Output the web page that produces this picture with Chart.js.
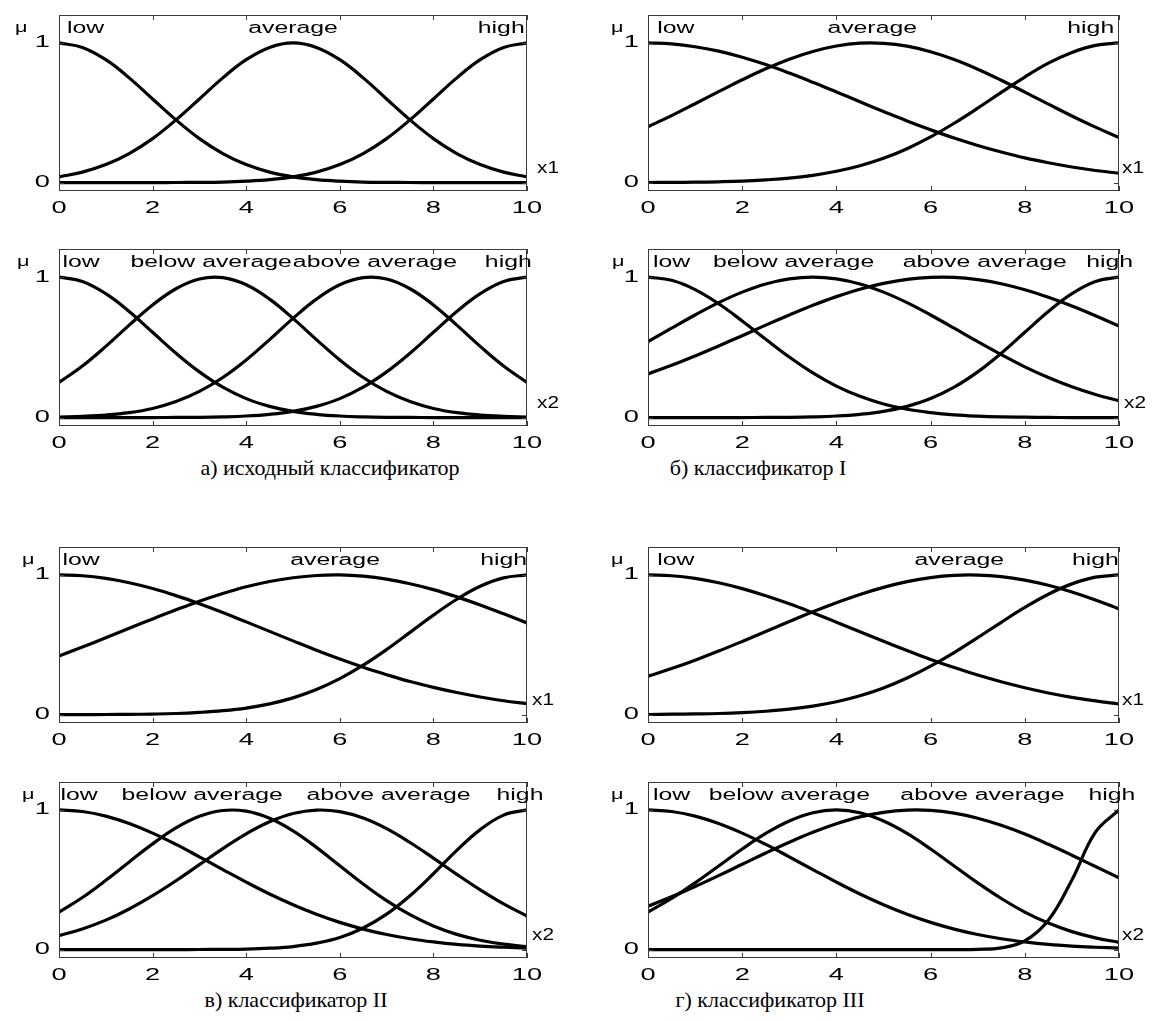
<!DOCTYPE html>
<html>
<head>
<meta charset="utf-8">
<script src="https://cdn.jsdelivr.net/npm/chart.js@4.4.0/dist/chart.umd.min.js"></script>
<style>
  body { margin: 0; background: #fff; width: 1152px; height: 1021px; position: relative; overflow: hidden; }
  canvas { position: absolute; }
  .cap { position: absolute; font-family: "Liberation Serif", "Times New Roman", serif; font-size: 22px;
         transform: translateX(-50%); white-space: nowrap; color: #000; line-height: 26px; }
</style>
</head>
<body>
<div class="cap" style="left:330px;top:455px">а) исходный классификатор</div>
<div class="cap" style="left:758px;top:455px">б) классификатор I</div>
<div class="cap" style="left:296px;top:987px">в) классификатор II</div>
<div class="cap" style="left:770px;top:987px">г) классификатор III</div>
<script>
// sample points on the input axis
var xs = [0, 0.5, 1, 1.5, 2, 2.5, 3, 3.5, 4, 4.5, 5, 5.5, 6, 6.5, 7, 7.5, 8, 8.5, 9, 9.5, 10];
var xTicks = [0, 2, 4, 6, 8, 10];
var yTicks = [0, 1];

// а) исходный классификатор
var a1Low  = [1, 0.968, 0.88, 0.75, 0.599, 0.449, 0.315, 0.208, 0.129, 0.075, 0.041, 0.021, 0.01, 0.004, 0.002, 0.001, 0, 0, 0, 0, 0];
var a1Avg  = [0.041, 0.075, 0.129, 0.208, 0.315, 0.449, 0.599, 0.75, 0.88, 0.968, 1, 0.968, 0.88, 0.75, 0.599, 0.449, 0.315, 0.208, 0.129, 0.075, 0.041];
var a1High = [0, 0, 0, 0, 0, 0.001, 0.002, 0.004, 0.01, 0.021, 0.041, 0.075, 0.129, 0.208, 0.315, 0.449, 0.599, 0.75, 0.88, 0.968, 1];
var a2Low   = [1, 0.969, 0.882, 0.755, 0.607, 0.458, 0.325, 0.216, 0.135, 0.08, 0.044, 0.023, 0.011, 0.005, 0.002, 0.001, 0, 0, 0, 0, 0];
var a2Below = [0.25, 0.367, 0.507, 0.658, 0.802, 0.917, 0.986, 0.996, 0.945, 0.843, 0.706, 0.555, 0.41, 0.285, 0.186, 0.114, 0.065, 0.035, 0.018, 0.009, 0.004];
var a2Above = [0.004, 0.009, 0.018, 0.035, 0.065, 0.114, 0.186, 0.285, 0.41, 0.555, 0.706, 0.843, 0.945, 0.996, 0.986, 0.917, 0.802, 0.658, 0.507, 0.367, 0.25];
var a2High  = [0, 0, 0, 0, 0, 0.001, 0.002, 0.005, 0.011, 0.023, 0.044, 0.08, 0.135, 0.216, 0.325, 0.458, 0.607, 0.755, 0.882, 0.969, 1];

// б) классификатор I
var b1Low  = [1, 0.993, 0.973, 0.941, 0.898, 0.845, 0.784, 0.718, 0.649, 0.579, 0.509, 0.441, 0.378, 0.319, 0.266, 0.219, 0.177, 0.142, 0.112, 0.087, 0.067];
var b1Avg  = [0.4, 0.48, 0.565, 0.651, 0.736, 0.815, 0.884, 0.939, 0.978, 0.998, 0.997, 0.977, 0.937, 0.881, 0.812, 0.733, 0.648, 0.562, 0.477, 0.397, 0.323];
var b1High = [0.001, 0.002, 0.003, 0.006, 0.011, 0.02, 0.032, 0.052, 0.081, 0.121, 0.174, 0.243, 0.327, 0.425, 0.533, 0.646, 0.756, 0.855, 0.932, 0.983, 1];
var b2Low   = [1, 0.977, 0.911, 0.81, 0.688, 0.558, 0.431, 0.318, 0.224, 0.151, 0.097, 0.059, 0.035, 0.019, 0.01, 0.005, 0.003, 0.001, 0, 0, 0];
var b2Below = [0.54, 0.636, 0.73, 0.818, 0.893, 0.951, 0.987, 1, 0.987, 0.951, 0.893, 0.818, 0.73, 0.636, 0.54, 0.448, 0.361, 0.285, 0.219, 0.164, 0.12];
var b2Above = [0.311, 0.372, 0.439, 0.51, 0.583, 0.658, 0.73, 0.799, 0.861, 0.914, 0.955, 0.984, 0.998, 0.998, 0.982, 0.953, 0.91, 0.856, 0.794, 0.725, 0.652];
var b2High  = [0, 0, 0, 0, 0, 0.001, 0.002, 0.005, 0.011, 0.023, 0.044, 0.08, 0.135, 0.216, 0.325, 0.458, 0.607, 0.755, 0.882, 0.969, 1];

// в) классификатор II
var c1Low  = [1, 0.994, 0.975, 0.944, 0.903, 0.852, 0.794, 0.731, 0.664, 0.596, 0.528, 0.461, 0.398, 0.339, 0.286, 0.237, 0.195, 0.158, 0.126, 0.099, 0.078];
var c1Avg  = [0.42, 0.484, 0.55, 0.618, 0.685, 0.75, 0.812, 0.867, 0.915, 0.953, 0.98, 0.996, 1, 0.991, 0.97, 0.937, 0.895, 0.843, 0.785, 0.722, 0.656];
var c1High = [0, 0, 0.001, 0.002, 0.004, 0.008, 0.016, 0.028, 0.047, 0.077, 0.12, 0.18, 0.258, 0.354, 0.466, 0.589, 0.712, 0.826, 0.919, 0.979, 1];
var c2Low   = [1, 0.989, 0.956, 0.903, 0.834, 0.753, 0.664, 0.573, 0.483, 0.398, 0.321, 0.253, 0.195, 0.147, 0.108, 0.078, 0.055, 0.037, 0.025, 0.017, 0.011];
var c2Below = [0.268, 0.373, 0.496, 0.628, 0.757, 0.871, 0.954, 0.996, 0.991, 0.94, 0.85, 0.732, 0.601, 0.47, 0.351, 0.25, 0.169, 0.109, 0.067, 0.039, 0.022];
var c2Above = [0.1, 0.148, 0.211, 0.291, 0.386, 0.493, 0.608, 0.723, 0.829, 0.915, 0.974, 0.999, 0.988, 0.942, 0.866, 0.767, 0.655, 0.539, 0.428, 0.327, 0.241];
var c2High  = [0, 0, 0, 0, 0, 0, 0.001, 0.002, 0.004, 0.01, 0.022, 0.046, 0.087, 0.155, 0.254, 0.386, 0.543, 0.71, 0.859, 0.963, 1];

// г) классификатор III
var d1Low  = [1, 0.994, 0.975, 0.944, 0.902, 0.851, 0.793, 0.729, 0.662, 0.593, 0.525, 0.459, 0.395, 0.337, 0.283, 0.235, 0.192, 0.155, 0.124, 0.098, 0.076];
var d1Avg  = [0.275, 0.33, 0.39, 0.455, 0.524, 0.595, 0.666, 0.736, 0.801, 0.86, 0.911, 0.952, 0.981, 0.997, 0.999, 0.988, 0.963, 0.926, 0.878, 0.821, 0.757];
var d1High = [0.001, 0.003, 0.005, 0.008, 0.014, 0.024, 0.039, 0.061, 0.092, 0.135, 0.191, 0.262, 0.347, 0.444, 0.551, 0.661, 0.767, 0.862, 0.936, 0.984, 1];
var d2Low   = [1, 0.989, 0.956, 0.903, 0.834, 0.753, 0.664, 0.573, 0.483, 0.398, 0.321, 0.253, 0.195, 0.147, 0.108, 0.078, 0.055, 0.037, 0.025, 0.017, 0.011];
var d2Below = [0.269, 0.366, 0.478, 0.599, 0.72, 0.832, 0.921, 0.98, 1, 0.98, 0.921, 0.832, 0.72, 0.599, 0.478, 0.366, 0.269, 0.19, 0.129, 0.084, 0.052];
var d2Above = [0.311, 0.378, 0.452, 0.53, 0.611, 0.692, 0.769, 0.84, 0.901, 0.95, 0.983, 0.999, 0.997, 0.977, 0.941, 0.89, 0.827, 0.754, 0.676, 0.595, 0.514];
var d2High  = [0, 0, 0, 0, 0, 0, 0, 0, 0, 0, 0, 0, 0, 0, 0.002, 0.013, 0.062, 0.21, 0.499, 0.841, 1];

var names3 = ['low', 'average', 'high'];
var names4 = ['low', 'below average', 'above average', 'high'];

// where each subplot sits: plot-area left/right and the pixel rows of mu=1 and mu=0
var panels = [
  { L: 59,  R: 527,  y1: 43,  y0: 183, series: [a1Low, a1Avg, a1High], names: names3, at: [0.57, 5.0, 9.45], input: 'x1', ix: 10, mu: -44 },
  { L: 59,  R: 527,  y1: 277, y0: 418, series: [a2Low, a2Below, a2Above, a2High], names: names4, at: [0.47, 3.25, 6.75, 9.6], input: 'x2', ix: 10, mu: -42 },
  { L: 648, R: 1119, y1: 43,  y0: 183, series: [b1Low, b1Avg, b1High], names: names3, at: [0.59, 4.76, 9.4], input: 'x1', ix: 3, mu: -37 },
  { L: 648, R: 1119, y1: 277, y0: 418, series: [b2Low, b2Below, b2Above, b2High], names: names4, at: [0.5, 3.09, 7.15, 9.8], input: 'x2', ix: 5, mu: -36 },
  { L: 59,  R: 527,  y1: 575, y0: 715, series: [c1Low, c1Avg, c1High], names: names3, at: [0.47, 5.9, 9.5], input: 'x1', ix: 5, mu: -37 },
  { L: 59,  R: 527,  y1: 810, y0: 950, series: [c2Low, c2Below, c2Above, c2High], names: names4, at: [0.43, 3.06, 7.04, 9.85], input: 'x2', ix: 5, mu: -37 },
  { L: 648, R: 1119, y1: 575, y0: 715, series: [d1Low, d1Avg, d1High], names: names3, at: [0.59, 6.61, 9.5], input: 'x1', ix: 3, mu: -37 },
  { L: 648, R: 1119, y1: 810, y0: 950, series: [d2Low, d2Below, d2Above, d2High], names: names4, at: [0.5, 3.0, 7.1, 9.85], input: 'x2', ix: 3, mu: -37 }
];

var Y_MIN = -0.06, Y_MAX = 1.2;
var PAD_L = 50, PAD_B = 32, PAD_R = 45, PAD_T = 2;
var FONT = '"Liberation Sans", Arial, sans-serif';
var STRETCH_TXT = 1.55, STRETCH_NUM = 1.7;

// the source figure was widened, so its lettering is drawn horizontally stretched
function wideText(ctx, txt, x, y, align, sx) {
  ctx.save();
  ctx.translate(x, y);
  ctx.scale(sx, 1);
  ctx.textAlign = align;
  ctx.fillText(txt, 0, 0);
  ctx.restore();
}

var framePlugin = {
  id: 'frame',
  afterDraw: function(chart) {
    var p = chart.options.plugins.frame.panel;
    var a = chart.chartArea, ctx = chart.ctx;
    var sx = chart.scales.x, sy = chart.scales.y;
    ctx.save();
    ctx.strokeStyle = '#3a3a3a';
    ctx.lineWidth = 1;
    ctx.strokeRect(Math.round(a.left) + 0.5, Math.round(a.top) + 0.5,
                   Math.round(a.right - a.left) - 1, Math.round(a.bottom - a.top) - 1);
    ctx.beginPath();
    xTicks.forEach(function(v) {
      var px = Math.round(sx.getPixelForValue(v)) + 0.5;
      ctx.moveTo(px, a.bottom); ctx.lineTo(px, a.bottom - 5);
      ctx.moveTo(px, a.top); ctx.lineTo(px, a.top + 5);
    });
    yTicks.forEach(function(v) {
      var py = Math.round(sy.getPixelForValue(v)) + 0.5;
      ctx.moveTo(a.left, py); ctx.lineTo(a.left + 5, py);
      ctx.moveTo(a.right, py); ctx.lineTo(a.right - 5, py);
    });
    ctx.stroke();

    ctx.fillStyle = '#000';
    ctx.textBaseline = 'middle';
    ctx.font = '16px ' + FONT;
    xTicks.forEach(function(v) {
      wideText(ctx, String(v), sx.getPixelForValue(v), a.bottom + 18, 'center', STRETCH_NUM);
    });
    yTicks.forEach(function(v) {
      wideText(ctx, String(v), a.left - 9, sy.getPixelForValue(v), 'right', STRETCH_NUM);
    });

    p.names.forEach(function(n, i) {
      wideText(ctx, n, sx.getPixelForValue(p.at[i]), sy.getPixelForValue(1.1), 'center', STRETCH_TXT);
    });
    wideText(ctx, p.input, a.right + p.ix, sy.getPixelForValue(0.1), 'left', 1.3);
    ctx.font = '14px ' + FONT;
    wideText(ctx, '\u03bc', a.left + p.mu, a.top + 13, 'left', STRETCH_TXT);
    ctx.restore();
  }
};

function makeChart(p) {
  var top = Math.round(p.y1 - (Y_MAX - 1) * (p.y0 - p.y1));
  var bottom = Math.round(p.y0 - Y_MIN * (p.y0 - p.y1));
  var cv = document.createElement('canvas');
  cv.width = PAD_L + (p.R - p.L) + PAD_R;
  cv.height = PAD_T + (bottom - top) + PAD_B;
  cv.style.left = (p.L - PAD_L) + 'px';
  cv.style.top = (top - PAD_T) + 'px';
  document.body.appendChild(cv);

  var datasets = p.series.map(function(arr, i) {
    return {
      label: p.names[i],
      data: xs.map(function(x, j) { return { x: x, y: arr[j] }; }),
      borderColor: '#000',
      borderWidth: 3.2,
      pointRadius: 0,
      fill: false,
      tension: 0.4
    };
  });

  new Chart(cv, {
    type: 'line',
    data: { datasets: datasets },
    plugins: [framePlugin],
    options: {
      responsive: false,
      animation: false,
      devicePixelRatio: 1,
      layout: { padding: { left: PAD_L, right: PAD_R, top: PAD_T, bottom: PAD_B } },
      plugins: {
        legend: { display: false },
        tooltip: { enabled: false },
        frame: { panel: p }
      },
      scales: {
        x: { type: 'linear', min: 0, max: 10, display: false },
        y: { type: 'linear', min: Y_MIN, max: Y_MAX, display: false }
      }
    }
  });
}

panels.forEach(makeChart);
</script>
</body>
</html>
